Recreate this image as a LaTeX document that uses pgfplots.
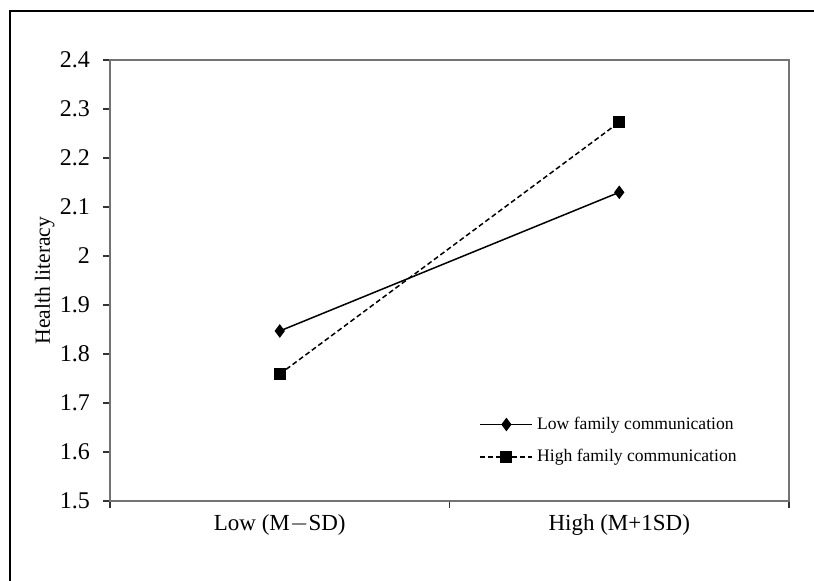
\documentclass[border=0pt]{standalone}
\usepackage{pgfplots}
\pgfplotsset{compat=1.18}
\usepackage{fontspec}
\setmainfont{Liberation Serif}
\begin{document}
\begin{tikzpicture}
\useasboundingbox (0,0) rectangle (407pt,-290pt);
\draw[line width=0.6pt] (5pt,-5.5pt) rectangle (412pt,-300pt);
\begin{axis}[
  at={(55pt,-250.5pt)}, anchor=south west,
  scale only axis, width=339.5pt, height=220.5pt,
  xmin=-0.5, xmax=1.5, ymin=1.5, ymax=2.4,
  ytick={1.5,1.6,...,2.4},
  yticklabels={1.5,1.6,1.7,1.8,1.9,2,2.1,2.2,2.3,2.4},
  xtick={-0.5,0.5,1.5}, xticklabels={},
  extra x ticks={0,1}, extra x tick labels={Low (M$-$SD), High (M+1SD)},
  extra x tick style={major tick length=0pt, tick style={draw=none}},
  tick align=outside, major tick length=3.5pt,
  ytick pos=left, xtick pos=bottom,
  tick style={black!80, line width=0.6pt},
  axis line style={black!55, line width=1pt},
  yticklabel style={font=\fontsize{12}{14}\selectfont, xshift=-3pt},
  xticklabel style={font=\fontsize{11.5}{14}\selectfont, yshift=-3pt},
  /pgf/number format/assume math mode=true,
  ylabel={Health literacy},
  ylabel style={font=\fontsize{10.8}{12}\selectfont, at={(axis description cs:-0.096,0.5)}, anchor=center},
  legend style={at={(0.535,0.21)}, anchor=north west, draw=none, fill=none,
    font=\fontsize{8.8}{10}\selectfont, row sep=4.5pt},
  legend cell align=left,
  legend image code/.code={\draw[#1, line width=0.75pt] (0pt,0pt) -- (26pt,0pt);
    \path[#1, solid] plot coordinates {(13pt,0pt)};},
]
\addplot[black, line width=0.75pt, mark=diamond*, mark size=2.8pt, mark options={solid}]
  coordinates {(0,1.847) (1,2.130)};
\addlegendentry{Low family communication}
\addplot[black, line width=0.75pt, dash pattern=on 2.5pt off 1.5pt, mark=square*, mark size=2.6pt, mark options={solid}]
  coordinates {(0,1.759) (1,2.273)};
\addlegendentry{High family communication}
\end{axis}
\end{tikzpicture}
\end{document}
